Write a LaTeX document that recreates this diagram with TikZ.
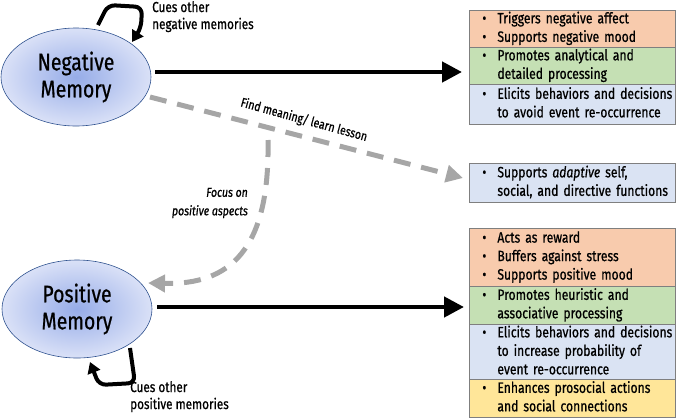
\documentclass[tikz,border=0pt]{standalone}
\usepackage{fontspec}
\setmainfont{Fira Sans}[FakeStretch=0.81, FakeBold=0.7]
\usetikzlibrary{arrows.meta,shapes.geometric}
\definecolor{cOr}{RGB}{248,203,173}
\definecolor{cGr}{RGB}{197,224,180}
\definecolor{cBl}{RGB}{218,227,243}
\definecolor{cYe}{RGB}{255,230,153}
\definecolor{cGy}{RGB}{166,166,166}
\definecolor{cBd}{RGB}{127,127,127}
\definecolor{cEl}{RGB}{47,82,143}
\definecolor{cIn}{RGB}{150,172,232}
\definecolor{cOut}{RGB}{218,225,247}
\newcommand{\blist}[1]{\begin{tabular}{@{}p{20pt}@{}l@{}}#1\end{tabular}}
\newcommand{\bul}{\hspace*{5pt}\textbullet}
\hbadness=10000 \hfuzz=100pt
\tikzset{
  box/.style={draw=cBd, line width=0.8pt, anchor=north west, minimum width=206pt,
    text width=190pt, inner xsep=8pt, inner ysep=0pt, align=left,
    font=\fontsize{15}{18.5}\selectfont},
  mem/.style={ellipse, draw=cEl, line width=0.6pt, shading=radial, inner color=cIn,
    outer color=cOut, minimum width=150pt, minimum height=98pt, align=center,
    font=\fontsize{24}{27}\selectfont},
  bigarrow/.style={line width=4.5pt, -{Triangle[length=20pt,width=20pt]}},
  looparrow/.style={line width=4pt, rounded corners=7pt, -{Triangle[length=11pt,width=13pt]}},
  grayarrow/.style={draw=cGy, line width=5pt, dash pattern=on 17pt off 11pt,
    -{Triangle[length=17pt,width=17pt,fill=cGy]}},
  lbl/.style={font=\fontsize{14.5}{17}\selectfont, align=left, inner sep=0pt},
}
\begin{document}
\begin{tikzpicture}[x=1pt,y=-1pt]
\useasboundingbox (0,0) rectangle (676,418);
% memories
\node[mem] (neg) at (76,77) {Negative\\Memory};
\node[mem] (pos) at (77,309) {Positive\\Memory};
% top boxes
\node[box, fill=cOr, minimum height=37pt] (b1) at (469,10) {\blist{\bul & Triggers negative affect\\\bul & Supports negative mood}};
\node[box, fill=cGr, minimum height=37pt] (b2) at (469,47) {\blist{\bul & Promotes analytical and\\ & detailed processing}};
\node[box, fill=cBl, minimum height=40pt] (b3) at (469,84) {\blist{\bul & Elicits behaviors and decisions\\ & to avoid event re-occurrence}};
% adaptive box
\node[box, fill=cBl, minimum height=39pt] (ad) at (469,163) {\blist{\bul & Supports \textit{adaptive} self,\\ & social, and directive functions}};
% bottom boxes
\node[box, fill=cOr, minimum height=58pt] (p1) at (469,228) {\blist{\bul & Acts as reward\\\bul & Buffers against stress\\\bul & Supports positive mood}};
\node[box, fill=cGr, minimum height=38pt] (p2) at (469,286) {\blist{\bul & Promotes heuristic and\\ & associative processing}};
\node[box, fill=cBl, minimum height=55pt] (p3) at (469,324) {\blist{\bul & Elicits behaviors and decisions\\ & to increase probability of\\ & event re-occurrence}};
\node[box, fill=cYe, minimum height=38pt] (p4) at (469,379) {\blist{\bul & Enhances prosocial actions\\ & and social connections}};
% black arrows
\coordinate (nA) at (155,72);
\coordinate (nB) at (462,72);
\draw[bigarrow] (nA) -- (nB);
\coordinate (pA) at (157,307);
\coordinate (pB) at (464,307);
\draw[bigarrow] (pA) -- (pB);
% loops
\coordinate (l1) at (98,25);
\coordinate (l2) at (132,42);
\draw[looparrow] (l1) -- (108,5) -- (142,7) -- (141,28) -- (l2);
\node[lbl, anchor=north west] (cn) at (152,1) {Cues other\\negative memories};
\coordinate (m1) at (130,348);
\coordinate (m2) at (90,362);
\draw[looparrow] (m1) -- (135,383) -- (99,385) -- (m2);
\node[lbl, anchor=north west] (cp) at (130,381) {Cues other\\positive memories};
% gray arrows
\coordinate (g1) at (150,97);
\coordinate (g2) at (463,178);
\draw[grayarrow] (g1) -- (g2);
\node[lbl, rotate=-15.5, font=\fontsize{13}{17}\selectfont] (fm) at (304,120) {Find meaning/ learn lesson};
\coordinate (h1) at (268,140);
\coordinate (h2) at (148,283);
\draw[grayarrow] (h1) .. controls (270,250) and (230,285) .. (h2);
\node[lbl, align=right, anchor=east, font=\fontsize{13}{18.5}\selectfont\itshape] (fp) at (248,203) {Focus on\\positive aspects};
\end{tikzpicture}
\end{document}
